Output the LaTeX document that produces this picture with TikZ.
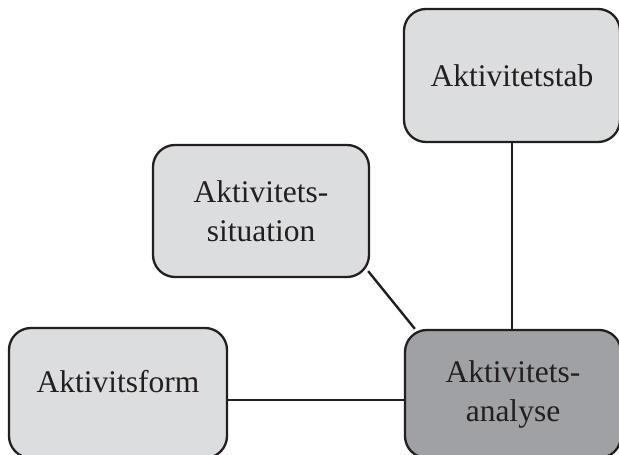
\documentclass[tikz,border=0pt]{standalone}
\usepackage{fontspec}
\setmainfont{Liberation Serif}
\usetikzlibrary{calc}
\definecolor{lightbox}{HTML}{DCDDDF}
\definecolor{darkbox}{HTML}{A0A1A4}
\definecolor{ink}{HTML}{231F20}
\tikzset{
  box/.style={draw=ink, line width=2.3pt, rounded corners=22pt, fill=lightbox,
    text=ink, align=center, inner sep=0pt,
    font=\fontsize{31.5}{39}\selectfont},
  darkboxstyle/.style={box, fill=darkbox},
  link/.style={draw=ink, line width=2.4pt}
}
\begin{document}
\begin{tikzpicture}[x=1pt,y=1pt]
\useasboundingbox (0,0) rectangle (619,455);
\node[box, minimum width=216pt, minimum height=133pt] (tab) at (512,379.5) {Aktivitetstab};
\node[box, minimum width=216pt, minimum height=132pt] (sit) at (261,244) {Aktivitets-\\situation};
\node[box, minimum width=218pt, minimum height=130pt,
  label={[name=formtext, text=ink, font=\fontsize{31.5}{39}\selectfont, yshift=11pt]center:Aktivitsform}] (form) at (118,62) {};
\node[darkboxstyle, minimum width=216pt, minimum height=128pt] (ana) at (513,61) {Aktivitets-\\analyse};
\draw[link] (tab.south) -- (tab.south |- ana.north);
\draw[link] (form.east |- 0,55) -- (ana.west |- 0,55);
\draw[link] ($(sit.south east)+(-2,7)$) -- ($(ana.north west)+(11,0)$);
\end{tikzpicture}
\end{document}
